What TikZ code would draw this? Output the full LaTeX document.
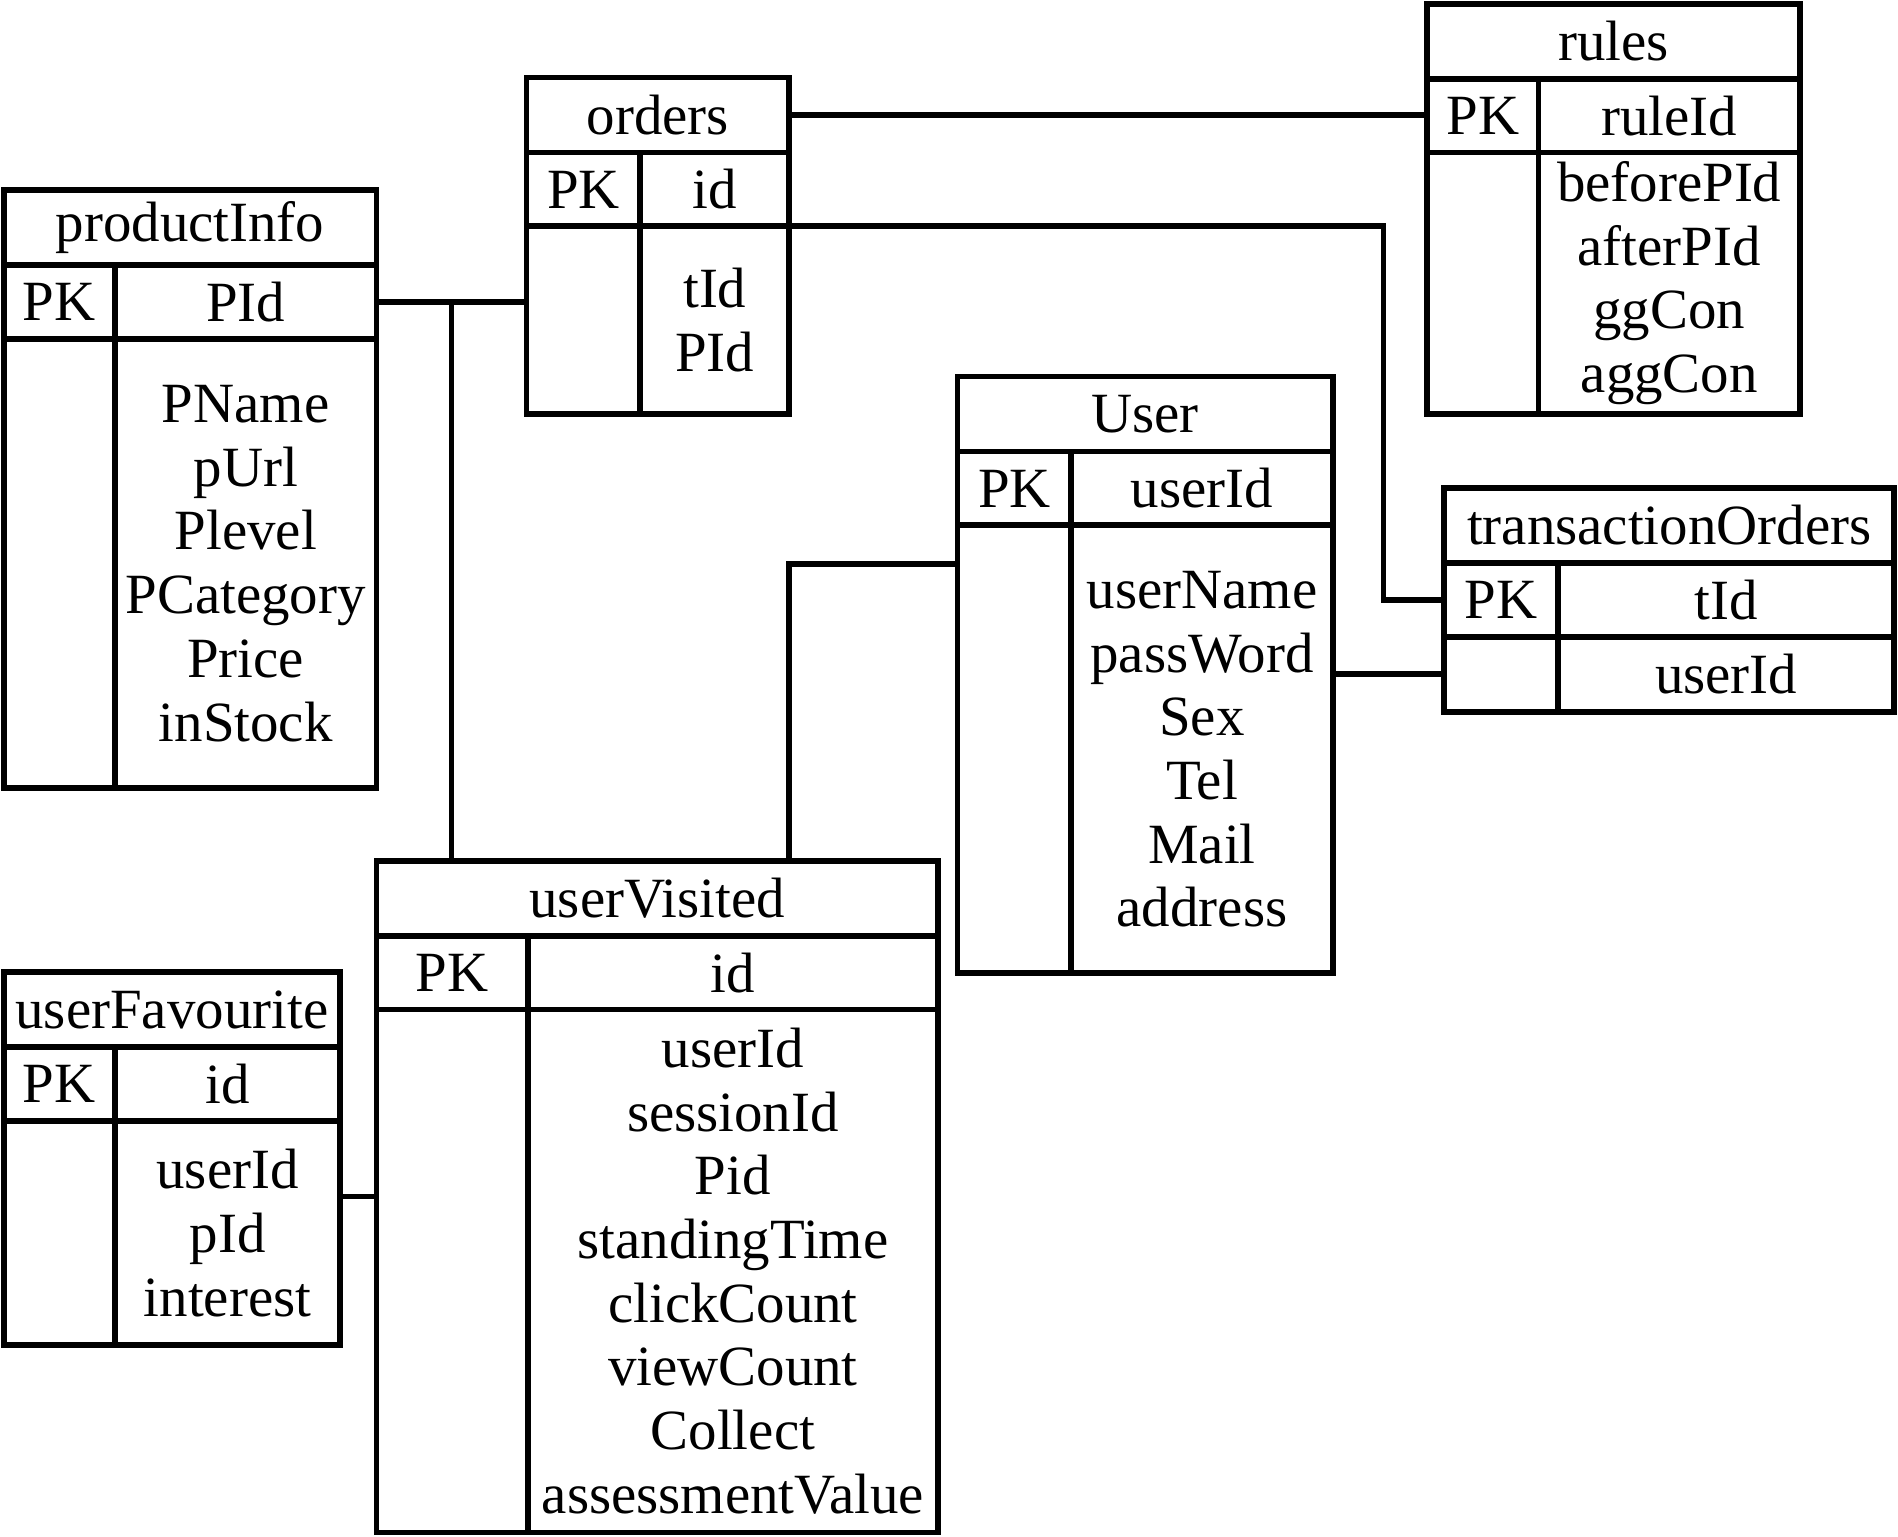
\documentclass[tikz,border=0pt]{standalone}
\usepackage{fontspec}
\setmainfont{Liberation Serif}
\usetikzlibrary{positioning,calc}

\begin{document}
\begin{tikzpicture}[
    x=0.5pt, y=-0.5pt,
    cell/.style={rectangle, draw=black, line width=2.4pt, inner sep=0pt, outer sep=0pt, align=center, font=\fontsize{23.5}{26.3}\selectfont},
    tbltitle/.style={cell, anchor=north west, minimum height=31pt},
    pkcell/.style={cell, minimum height=30.5pt},
    link/.style={line width=2.4pt}
]
\useasboundingbox (0,0) rectangle (1568,1269);

% productInfo (left)
\node[tbltitle, minimum width=154pt] (pititle) at (3,157) {productInfo};
\node[pkcell, minimum width=46pt, below right=0pt of pititle.south west] (pipk) {PK};
\node[pkcell, minimum width=108pt, right=0pt of pipk] (pikey) {PId};
\node[cell, minimum width=46pt, minimum height=185.5pt, below right=0pt of pipk.south west] (pibl) {};
\node[cell, minimum width=108pt, minimum height=185.5pt, right=0pt of pibl] (pibr) {PName\\pUrl\\Plevel\\PCategory\\Price\\inStock};

% orders (top middle)
\node[tbltitle, minimum width=108.5pt] (ortitle) at (435,64) {orders};
\node[pkcell, minimum width=47pt, below right=0pt of ortitle.south west] (orpk) {PK};
\node[pkcell, minimum width=61.5pt, right=0pt of orpk] (orkey) {id};
\node[cell, minimum width=47pt, minimum height=77.5pt, below right=0pt of orpk.south west] (orbl) {};
\node[cell, minimum width=61.5pt, minimum height=77.5pt, right=0pt of orbl] (orbr) {tId\\PId};

% rules (top right)
\node[tbltitle, minimum width=154pt] (rutitle) at (1179,3) {rules};
\node[pkcell, minimum width=46pt, below right=0pt of rutitle.south west] (rupk) {PK};
\node[pkcell, minimum width=108pt, right=0pt of rupk] (rukey) {ruleId};
\node[cell, minimum width=46pt, minimum height=108pt, below right=0pt of rupk.south west] (rubl) {};
\node[cell, minimum width=108pt, minimum height=108pt, right=0pt of rubl] (rubr) {beforePId\\afterPId\\ggCon\\aggCon};

% User (centre)
\node[tbltitle, minimum width=155pt] (ustitle) at (791,311) {User};
\node[pkcell, minimum width=47pt, below right=0pt of ustitle.south west] (uspk) {PK};
\node[pkcell, minimum width=108pt, right=0pt of uspk] (uskey) {userId};
\node[cell, minimum width=47pt, minimum height=185pt, below right=0pt of uspk.south west] (usbl) {};
\node[cell, minimum width=108pt, minimum height=185pt, right=0pt of usbl] (usbr) {userName\\passWord\\Sex\\Tel\\Mail\\address};

% transactionOrders (right)
\node[tbltitle, minimum width=186pt] (totitle) at (1193,403) {transactionOrders};
\node[pkcell, minimum width=47pt, below right=0pt of totitle.south west] (topk) {PK};
\node[pkcell, minimum width=139pt, right=0pt of topk] (tokey) {tId};
\node[cell, minimum width=47pt, minimum height=31pt, below right=0pt of topk.south west] (tobl) {};
\node[cell, minimum width=139pt, minimum height=31pt, right=0pt of tobl] (tobr) {userId};

% userVisited (bottom middle)
\node[tbltitle, minimum width=232pt] (uvtitle) at (311,711) {userVisited};
\node[pkcell, minimum width=62.5pt, below right=0pt of uvtitle.south west] (uvpk) {PK};
\node[pkcell, minimum width=169.5pt, right=0pt of uvpk] (uvkey) {id};
\node[cell, minimum width=62.5pt, minimum height=216pt, below right=0pt of uvpk.south west] (uvbl) {};
\node[cell, minimum width=169.5pt, minimum height=216pt, right=0pt of uvbl] (uvbr) {userId\\sessionId\\Pid\\standingTime\\clickCount\\viewCount\\Collect\\assessmentValue};

% userFavourite (bottom left)
\node[tbltitle, minimum width=139pt] (uftitle) at (3,803) {userFavourite};
\node[pkcell, minimum width=46pt, below right=0pt of uftitle.south west] (ufpk) {PK};
\node[pkcell, minimum width=93pt, right=0pt of ufpk] (ufkey) {id};
\node[cell, minimum width=46pt, minimum height=92.5pt, below right=0pt of ufpk.south west] (ufbl) {};
\node[cell, minimum width=93pt, minimum height=92.5pt, right=0pt of ufbl] (ufbr) {userId\\pId\\interest};

% relations
\coordinate (pjoin) at ($(pikey.east)!0.5!(pikey.east -| orbl.west)$);
\draw[link] (pikey.east) -- (pikey.east -| orbl.west);
\draw[link] (pjoin) -- (pjoin |- uvtitle.north);
\draw[link] (ortitle.east) -- (ortitle.east -| rupk.west);
\draw[link] (orkey.south east) -| ([xshift=-25pt]topk.west) -- (topk.west);
\draw[link] ([yshift=-16pt]usbl.north west) -| (uvtitle.north -| ortitle.east);
\draw[link] (usbr.east |- tobl.west) -- (tobl.west);
\draw[link] ([yshift=15pt]ufbr.east) -- ([yshift=15pt]ufbr.east -| uvbl.west);

\end{tikzpicture}
\end{document}
